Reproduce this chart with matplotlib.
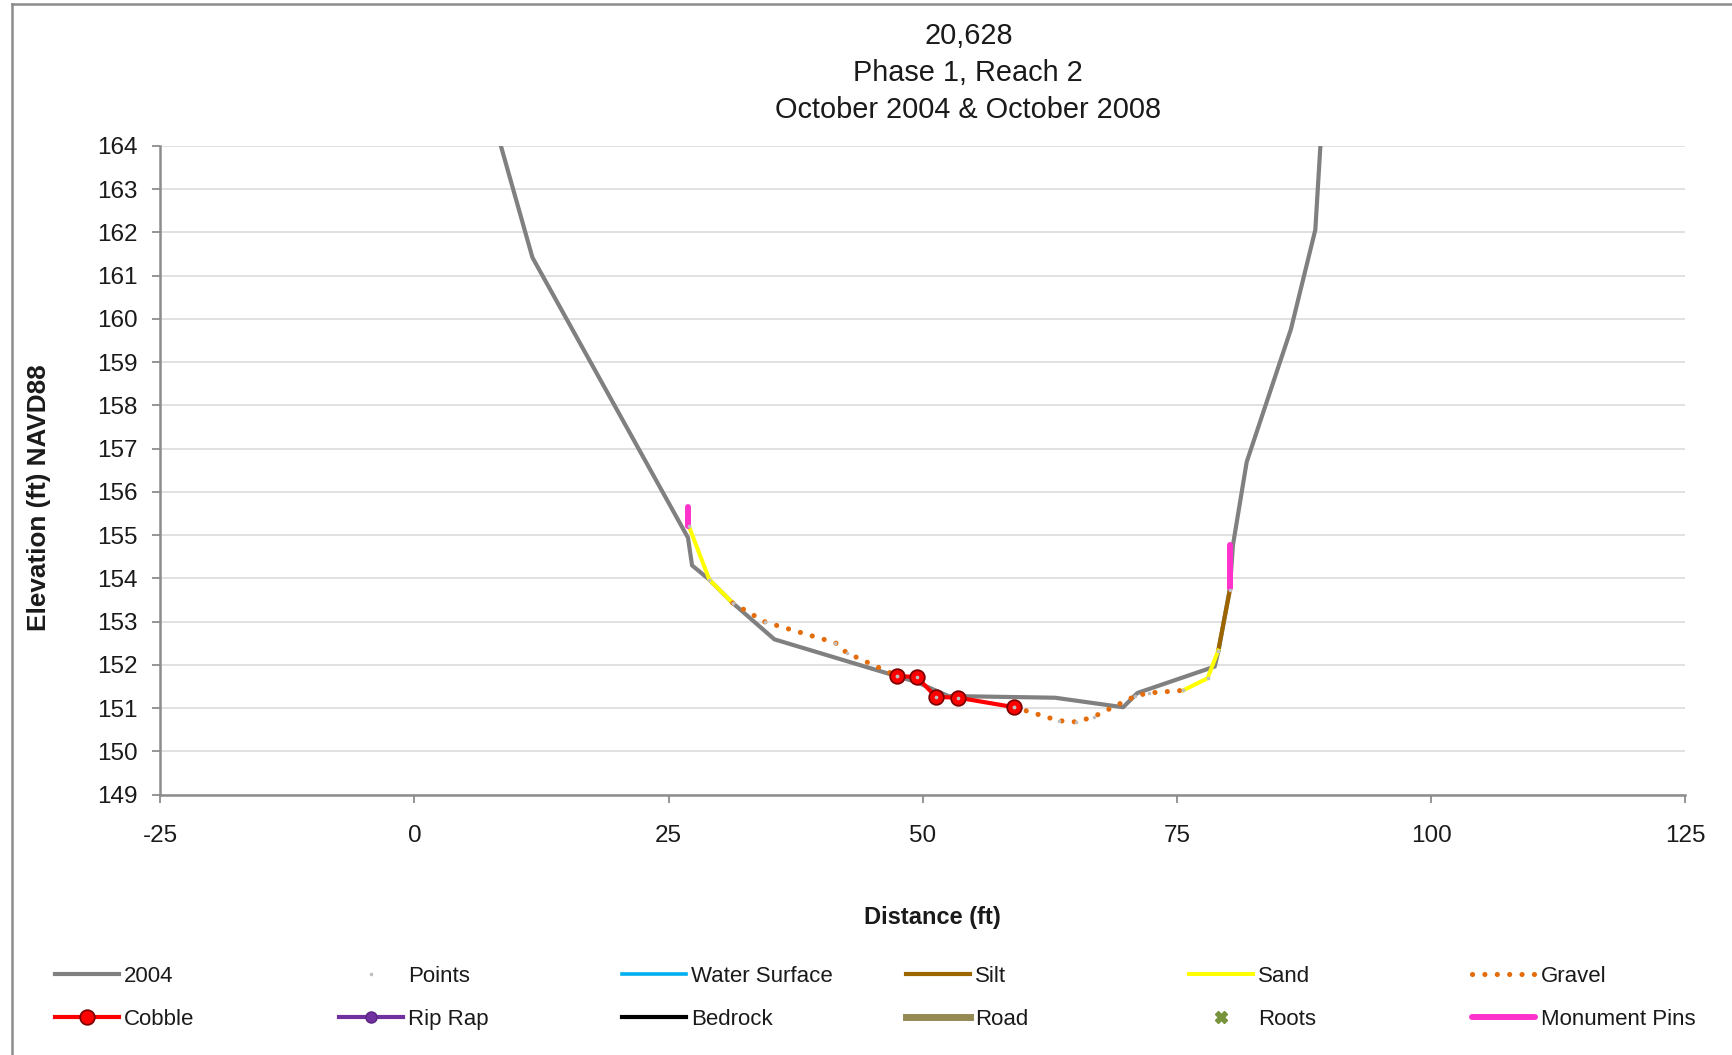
import numpy as np
import matplotlib
matplotlib.use("Agg")
import matplotlib.pyplot as plt
from matplotlib.lines import Line2D

plt.rcParams["font.family"] = ["Liberation Sans", "DejaVu Sans"]
plt.rcParams["axes.unicode_minus"] = False

# -----------------------
# Data
# -----------------------
x_2004 = [8.5, 11.6, 26.9, 27.3, 28.9, 31.3, 35.4, 49.4, 52.5, 63.0, 69.7,
          71.1, 78.7, 79.1, 80.2, 80.5, 81.85, 86.2, 88.6, 89.1]
y_2004 = [164.0, 161.42, 154.94, 154.30, 153.99, 153.43, 152.59, 151.60, 151.28,
          151.24, 151.02, 151.35, 151.96, 152.35, 153.77, 154.77, 156.69, 159.76,
          162.06, 164.0]

x_sand = [27.0, 29.0, 31.3, np.nan, 75.6, 78.0, 79.05]
y_sand = [155.2, 153.97, 153.43, np.nan, 151.41, 151.69, 152.33]

x_silt = [79.05, 80.2]
y_silt = [152.33, 153.73]

x_gravel = [31.3, 34.5, 41.4, 42.5, 47.5, np.nan, 59.0, 63.35, 65.1, 66.8, 70.9, 72.2, 75.6]
y_gravel = [153.43, 152.99, 152.51, 152.28, 151.74, np.nan, 151.02, 150.71, 150.68,
            150.80, 151.28, 151.35, 151.41]

x_cobble = [47.5, 49.4, 51.3, 53.5, 59.0]
y_cobble = [151.74, 151.72, 151.26, 151.24, 151.02]

x_pins = [26.9, 26.9, np.nan, 80.2, 80.2]
y_pins = [155.2, 155.65, np.nan, 153.77, 154.77]

x_ticks = [-25, 0, 25, 50, 75, 100, 125]
y_ticks = list(range(149, 165))

title_lines = ["20,628", "Phase 1, Reach 2", "October 2004 & October 2008"]

GRAY = "#808080"
AXC = "#8C8C8C"


def main():
    W, H = 1733, 1055
    fig = plt.figure(figsize=(W / 100, H / 100), dpi=100)

    # axes box in pixel terms
    left, right, top, bottom = 160.3, 1685.4, 145.9, 794.6
    ax = fig.add_axes([left / W, 1 - bottom / H, (right - left) / W, (bottom - top) / H])

    # -----------------------
    # Series
    # -----------------------
    l2004, = ax.plot(x_2004, y_2004, color=GRAY, lw=3.0, label="2004", zorder=3)

    px = np.concatenate([x_sand, x_silt, x_gravel, x_cobble])
    py = np.concatenate([y_sand, y_silt, y_gravel, y_cobble])
    lpts, = ax.plot(px, py, ls="none", marker="o", ms=1.6, color="#BFBFBF",
                    label="Points", zorder=8)

    lwater, = ax.plot([], [], color="#00B0F0", lw=2.6, label="Water Surface")
    lsilt, = ax.plot(x_silt, y_silt, color="#9C6500", lw=3.0, label="Silt", zorder=4)
    lsand, = ax.plot(x_sand, y_sand, color="#FFFF00", lw=2.9, label="Sand", zorder=4)
    lgrav, = ax.plot(x_gravel, y_gravel, color="#E46C0A", lw=3.7,
                     ls=(0, (0.01, 2.4)), dash_capstyle="round", label="Gravel", zorder=4)
    lcob, = ax.plot(x_cobble, y_cobble, color="#FF0000", lw=3.0, marker="o", ms=10.5,
                    mfc="#FF0000", mec="#7F0000", mew=1.3, label="Cobble", zorder=5)
    lrip, = ax.plot([], [], color="#7030A0", lw=3.0, marker="o", ms=8,
                    mfc="#7030A0", mec="#5C2483", label="Rip Rap")
    lbed, = ax.plot([], [], color="black", lw=3.0, label="Bedrock")
    lroad, = ax.plot([], [], color="#948A54", lw=5.0, label="Road")
    lroots, = ax.plot([], [], ls="none", marker="X", ms=9, color="#77933C", label="Roots")
    lpins, = ax.plot(x_pins, y_pins, color="#FF33CC", lw=4.3, label="Monument Pins",
                     zorder=6, solid_capstyle="round")

    # -----------------------
    # Axes styling
    # -----------------------
    ax.set_xlim(-25, 125)
    ax.set_ylim(149, 164)
    ax.set_xticks(x_ticks)
    ax.set_yticks(y_ticks)
    ax.grid(axis="y", color="#D9D9D9", lw=1.1)
    ax.set_axisbelow(True)
    for s in ["top", "right"]:
        ax.spines[s].set_visible(False)
    for s in ["left", "bottom"]:
        ax.spines[s].set_color(AXC)
        ax.spines[s].set_linewidth(1.8)
    ax.tick_params(axis="both", direction="out", length=6, width=1.3, color=AXC,
                   labelsize=17.5, labelcolor="#1A1A1A")
    ax.tick_params(axis="y", pad=10.5)
    ax.tick_params(axis="x", pad=16)

    ax.set_xlabel("Distance (ft)", fontsize=17, fontweight="bold", color="#1A1A1A")
    ax.xaxis.set_label_coords((932.3 - left) / (right - left), (bottom - 917.3) / (bottom - top))
    ax.xaxis.label.set_verticalalignment("center")
    ax.set_ylabel("Elevation (ft) NAVD88", fontsize=18.8, fontweight="bold", color="#1A1A1A")
    ax.yaxis.set_label_coords((38.7 - left) / (right - left), (bottom - 497.9) / (bottom - top))
    ax.yaxis.label.set_verticalalignment("center")

    # -----------------------
    # Title
    # -----------------------
    for line, yc in zip(title_lines, [36.5, 73, 109.5]):
        fig.text(968.3 / W, 1 - yc / H, line, ha="center", va="center",
                 fontsize=20.8, color="#1A1A1A")

    # -----------------------
    # Legend: 6 columns, 2 rows
    # -----------------------
    cols = [(l2004, lcob), (lpts, lrip), (lwater, lbed),
            (lsilt, lroad), (lsand, lroots), (lgrav, lpins)]
    col_x = [55.3, 339.3, 622.2, 906.3, 1189.2, 1472.1]
    for (h1, h2), cx in zip(cols, col_x):
        fig.legend([h1, h2], [h1.get_label(), h2.get_label()],
                   loc="upper left", bbox_to_anchor=(cx / W, 1 - 966 / H),
                   frameon=False, fontsize=16, handlelength=2.85, handletextpad=0.25,
                   labelspacing=0.97, borderpad=0, borderaxespad=0, numpoints=1,
                   labelcolor="#1A1A1A")

    # outer chart border (left and top visible)
    fig.add_artist(Line2D([12 / W, 12 / W], [0, 1 - 4 / H], color="#8C8C8C", lw=1.8))
    fig.add_artist(Line2D([12 / W, 1], [1 - 4 / H, 1 - 4 / H], color="#8C8C8C", lw=1.8))

    fig.savefig("out.png", dpi=100)


if __name__ == "__main__":
    main()
